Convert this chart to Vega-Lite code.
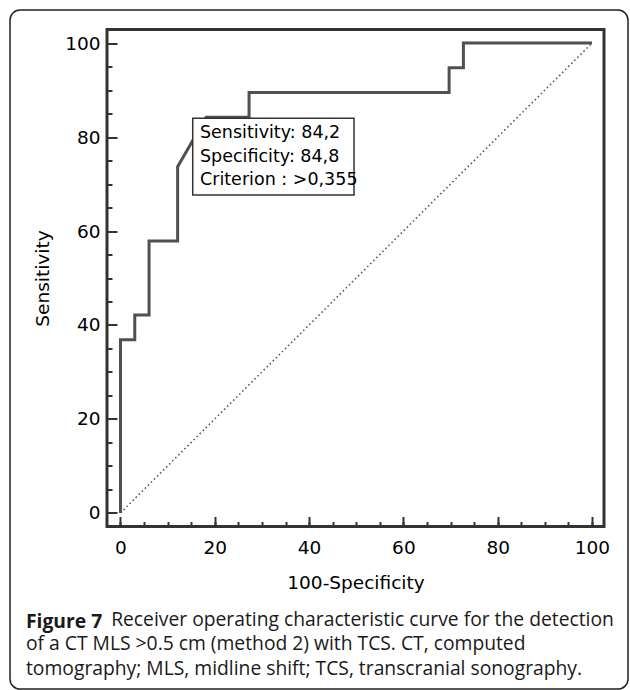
{
  "$schema": "https://vega.github.io/schema/vega-lite/v6.json",
  "width": 497,
  "height": 497,
  "autosize": {"type": "none"},
  "padding": {"left": 107, "top": 29.5, "right": 26, "bottom": 163.5},
  "background": "white",
  "config": {
    "view": {"stroke": "#333333", "strokeWidth": 3},
    "axis": {
      "grid": false,
      "domain": false,
      "labelFont": "DejaVu Sans",
      "labelFontSize": 18.5,
      "labelColor": "#000000",
      "titleFont": "DejaVu Sans",
      "titleFontSize": 18.5,
      "titleFontWeight": "normal",
      "titleColor": "#000000",
      "tickColor": "#333333",
      "tickWidth": 2
    }
  },
  "title": {
    "text": "Figure 7",
    "subtitle": [
      "\u200b\u00a0\u00a0\u00a0\u00a0\u00a0\u00a0\u00a0\u00a0\u00a0\u00a0\u00a0\u00a0\u00a0\u00a0\u00a0\u00a0\u00a0Receiver operating characteristic curve for the detection",
      "of a CT MLS >0.5 cm (method 2) with TCS. CT, computed",
      "tomography; MLS, midline shift; TCS, transcranial sonography."
    ],
    "orient": "bottom",
    "anchor": "start",
    "frame": "group",
    "dx": -81,
    "offset": -77,
    "font": "Open Sans",
    "fontSize": 19.3,
    "fontWeight": "bold",
    "color": "#1a1a1a",
    "lineHeight": 24.5,
    "subtitleFont": "Open Sans",
    "subtitleFontSize": 19.3,
    "subtitleFontWeight": "normal",
    "subtitleColor": "#1a1a1a",
    "subtitleLineHeight": 24.5,
    "subtitlePadding": -21.3
  },
  "datasets": {
    "roc": [
      {"fpr": 0, "sens": 0},
      {"fpr": 0, "sens": 36.84},
      {"fpr": 3.03, "sens": 36.84},
      {"fpr": 3.03, "sens": 42.11},
      {"fpr": 6.06, "sens": 42.11},
      {"fpr": 6.06, "sens": 57.89},
      {"fpr": 12.12, "sens": 57.89},
      {"fpr": 12.12, "sens": 73.68},
      {"fpr": 18.18, "sens": 84.21},
      {"fpr": 27.27, "sens": 84.21},
      {"fpr": 27.27, "sens": 89.47},
      {"fpr": 69.7, "sens": 89.47},
      {"fpr": 69.7, "sens": 94.74},
      {"fpr": 72.73, "sens": 94.74},
      {"fpr": 72.73, "sens": 100},
      {"fpr": 100, "sens": 100}
    ],
    "diag": [
      {"fpr": 0, "sens": 0},
      {"fpr": 100, "sens": 100}
    ]
  },
  "resolve": {"axis": {"x": "independent", "y": "independent"}},
  "layer": [
    {
      "data": {"name": "diag"},
      "mark": {"type": "line", "color": "#555555", "strokeWidth": 1.6, "strokeDash": [1.5, 2.8]},
      "encoding": {
        "x": {
          "field": "fpr", "type": "quantitative",
          "scale": {"domain": [-2.86, 102.55], "nice": false, "zero": false},
          "axis": {"orient": "bottom", "values": [0, 20, 40, 60, 80, 100], "labels": false, "tickSize": -10, "title": null}
        },
        "y": {
          "field": "sens", "type": "quantitative",
          "scale": {"domain": [-2.9, 102.9], "nice": false, "zero": false},
          "axis": {"orient": "left", "values": [0, 20, 40, 60, 80, 100], "labels": false, "tickSize": -10, "title": null}
        }
      }
    },
    {
      "data": {"name": "roc"},
      "mark": {"type": "line", "color": "#505050", "strokeWidth": 3, "strokeJoin": "miter"},
      "encoding": {
        "x": {
          "field": "fpr", "type": "quantitative",
          "axis": {"orient": "bottom", "values": [0, 5, 10, 15, 20, 25, 30, 35, 40, 45, 50, 55, 60, 65, 70, 75, 80, 85, 90, 95, 100], "labels": false, "tickSize": -5, "title": null}
        },
        "y": {
          "field": "sens", "type": "quantitative",
          "axis": {"orient": "left", "values": [0, 5, 10, 15, 20, 25, 30, 35, 40, 45, 50, 55, 60, 65, 70, 75, 80, 85, 90, 95, 100], "labels": false, "tickSize": -5, "title": null}
        }
      }
    },
    {
      "data": {"values": [{}]},
      "mark": {"type": "rect", "fill": "white", "stroke": "#333333", "strokeWidth": 1.5},
      "encoding": {
        "x": {
          "datum": 15.32, "type": "quantitative",
          "axis": {"orient": "bottom", "values": [0, 20, 40, 60, 80, 100], "ticks": false, "labelPadding": 12, "title": "100-Specificity", "titlePadding": 16}
        },
        "x2": {"datum": 49.53},
        "y": {
          "datum": 84.0, "type": "quantitative",
          "axis": {"orient": "left", "values": [0, 20, 40, 60, 80, 100], "ticks": false, "labelPadding": 7, "title": "Sensitivity", "titlePadding": 12}
        },
        "y2": {"datum": 67.67}
      }
    },
    {
      "data": {"values": [{}]},
      "mark": {
        "type": "text",
        "text": ["Sensitivity: 84,2", "Specificity: 84,8", "Criterion : >0,355"],
        "align": "left",
        "baseline": "middle",
        "font": "DejaVu Sans",
        "fontSize": 17.5,
        "lineHeight": 23.3,
        "color": "#000000"
      },
      "encoding": {
        "x": {"datum": 16.86, "type": "quantitative", "axis": null},
        "y": {"datum": 80.8, "type": "quantitative", "axis": null}
      }
    },
    {
      "data": {"values": [{}]},
      "mark": {"type": "rect", "fill": null, "fillOpacity": 0, "stroke": "#222222", "strokeWidth": 1.5, "cornerRadius": 10},
      "encoding": {
        "x": {"datum": -23.43, "type": "quantitative", "axis": null},
        "x2": {"datum": 107.64},
        "y": {"datum": 107.05, "type": "quantitative", "axis": null},
        "y2": {"datum": -37.5}
      }
    }
  ]
}
